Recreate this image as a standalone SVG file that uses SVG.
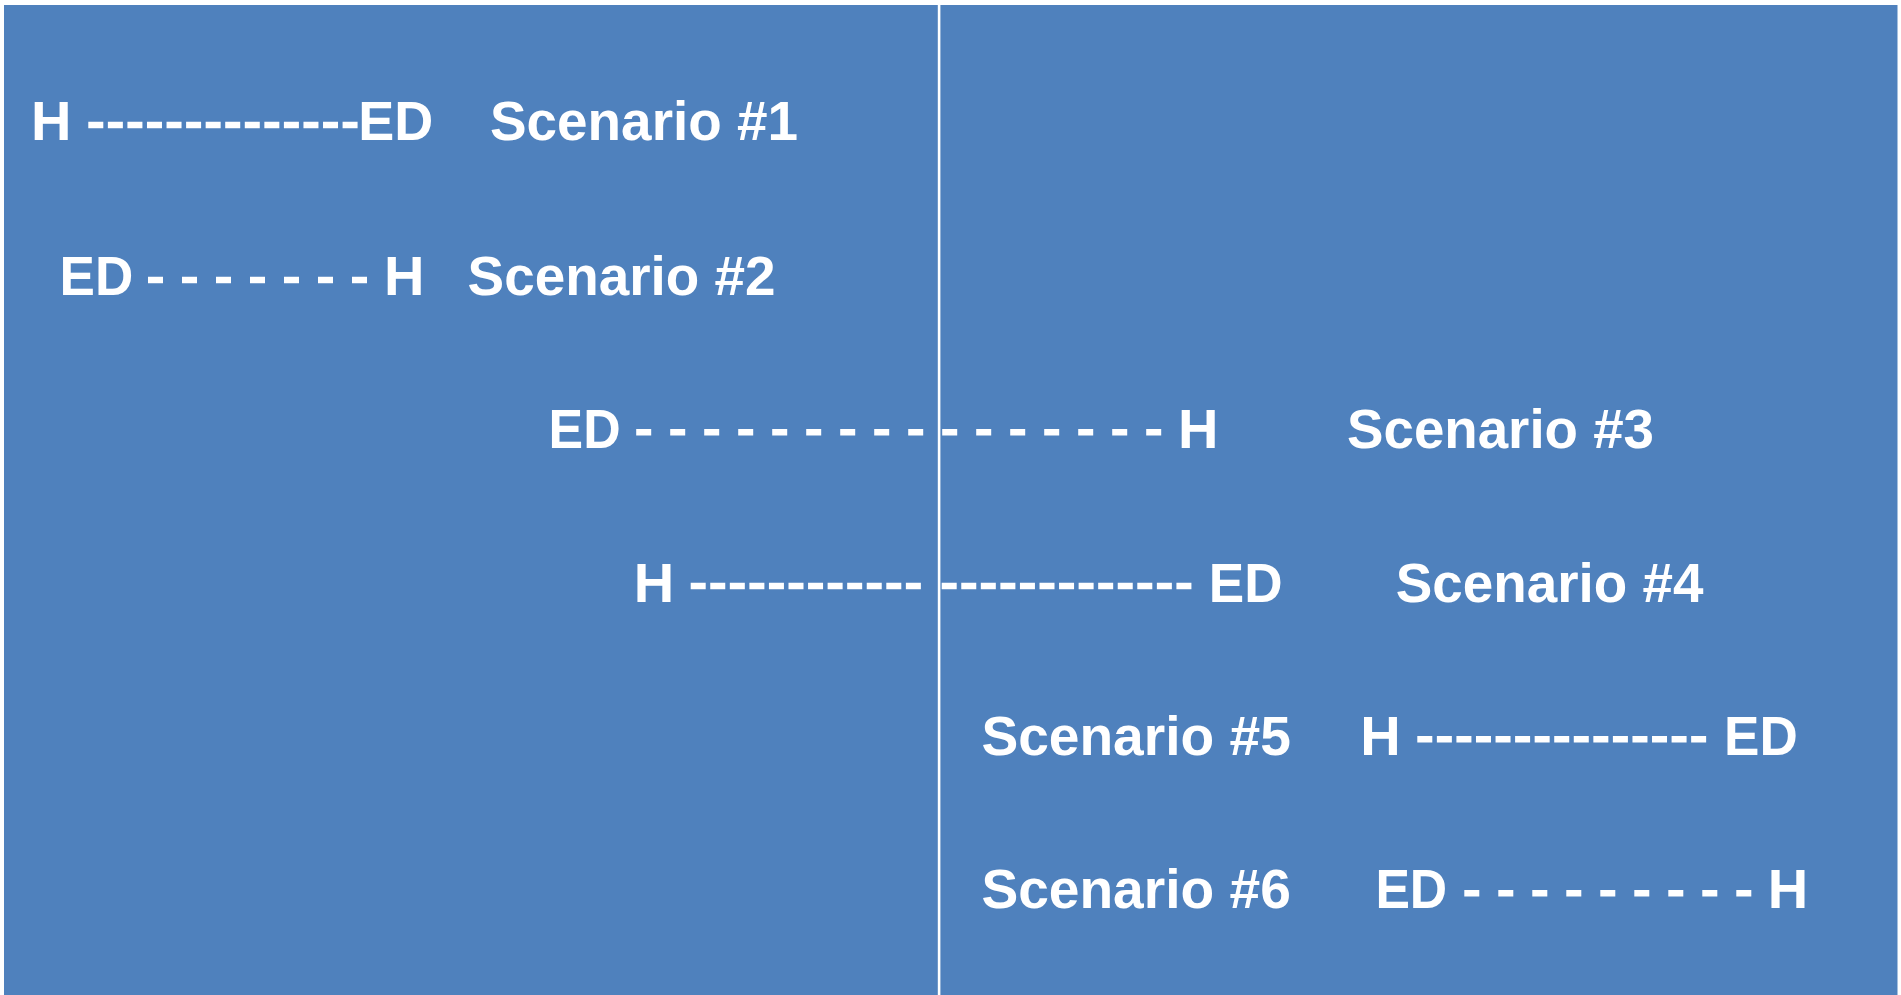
<svg xmlns="http://www.w3.org/2000/svg" width="1901" height="995" viewBox="0 0 1901 995">
  <style>
    .lbl { font-family: "Liberation Sans", Arial, sans-serif; font-weight: bold; font-size: 56px; fill: #ffffff; }
    .dash { stroke: #ffffff; stroke-width: 6.5; fill: none; }
    .tight { stroke-dasharray: 15 4.56; }
    .wide { stroke-dasharray: 15 19; }
  </style>
  <rect x="0" y="0" width="1901" height="995" fill="#ffffff"/>
  <g id="background">
    <rect x="4" y="5" width="1893.5" height="990" fill="#4F81BD"/>
    <rect x="937.8" y="5" width="2.6" height="990" fill="#ffffff"/>
  </g>
  <g id="connectors">
    <line class="dash tight" x1="88.3" y1="125" x2="358.3" y2="125"/>
    <line class="dash wide" x1="148" y1="280" x2="368" y2="280"/>
    <line class="dash wide" x1="636.2" y1="432.3" x2="1161.7" y2="432.3"/>
    <line class="dash tight" x1="690.7" y1="586" x2="921" y2="586"/>
    <line class="dash tight" x1="941.7" y1="586" x2="1191.7" y2="586"/>
    <line class="dash tight" x1="1417.3" y1="739.3" x2="1706.7" y2="739.3"/>
    <line class="dash wide" x1="1464.3" y1="893.3" x2="1752.3" y2="893.3"/>
  </g>
  <g id="scenario1">
    <text class="lbl" x="31" y="140">H</text>
    <text class="lbl" x="358.3" y="140" textLength="75" lengthAdjust="spacingAndGlyphs">ED</text>
    <text class="lbl" x="490" y="140" textLength="308" lengthAdjust="spacingAndGlyphs">Scenario #1</text>
  </g>
  <g id="scenario2">
    <text class="lbl" x="59.6" y="295" textLength="73.7" lengthAdjust="spacingAndGlyphs">ED</text>
    <text class="lbl" x="384" y="295">H</text>
    <text class="lbl" x="467.6" y="295" textLength="308" lengthAdjust="spacingAndGlyphs">Scenario #2</text>
  </g>
  <g id="scenario3">
    <text class="lbl" x="548.6" y="448.3" textLength="72" lengthAdjust="spacingAndGlyphs">ED</text>
    <text class="lbl" x="1178" y="448.3">H</text>
    <text class="lbl" x="1347" y="448.3" textLength="307" lengthAdjust="spacingAndGlyphs">Scenario #3</text>
  </g>
  <g id="scenario4">
    <text class="lbl" x="633.8" y="602.3">H</text>
    <text class="lbl" x="1208.8" y="602.3" textLength="73.8" lengthAdjust="spacingAndGlyphs">ED</text>
    <text class="lbl" x="1395.7" y="602.3" textLength="307.8" lengthAdjust="spacingAndGlyphs">Scenario #4</text>
  </g>
  <g id="scenario5">
    <text class="lbl" x="981.4" y="755" textLength="309.4" lengthAdjust="spacingAndGlyphs">Scenario #5</text>
    <text class="lbl" x="1360.2" y="755">H</text>
    <text class="lbl" x="1724" y="755" textLength="73.7" lengthAdjust="spacingAndGlyphs">ED</text>
  </g>
  <g id="scenario6">
    <text class="lbl" x="981.4" y="908.3" textLength="309.4" lengthAdjust="spacingAndGlyphs">Scenario #6</text>
    <text class="lbl" x="1375.4" y="908.3" textLength="71.8" lengthAdjust="spacingAndGlyphs">ED</text>
    <text class="lbl" x="1767.7" y="908.3">H</text>
  </g>
</svg>
